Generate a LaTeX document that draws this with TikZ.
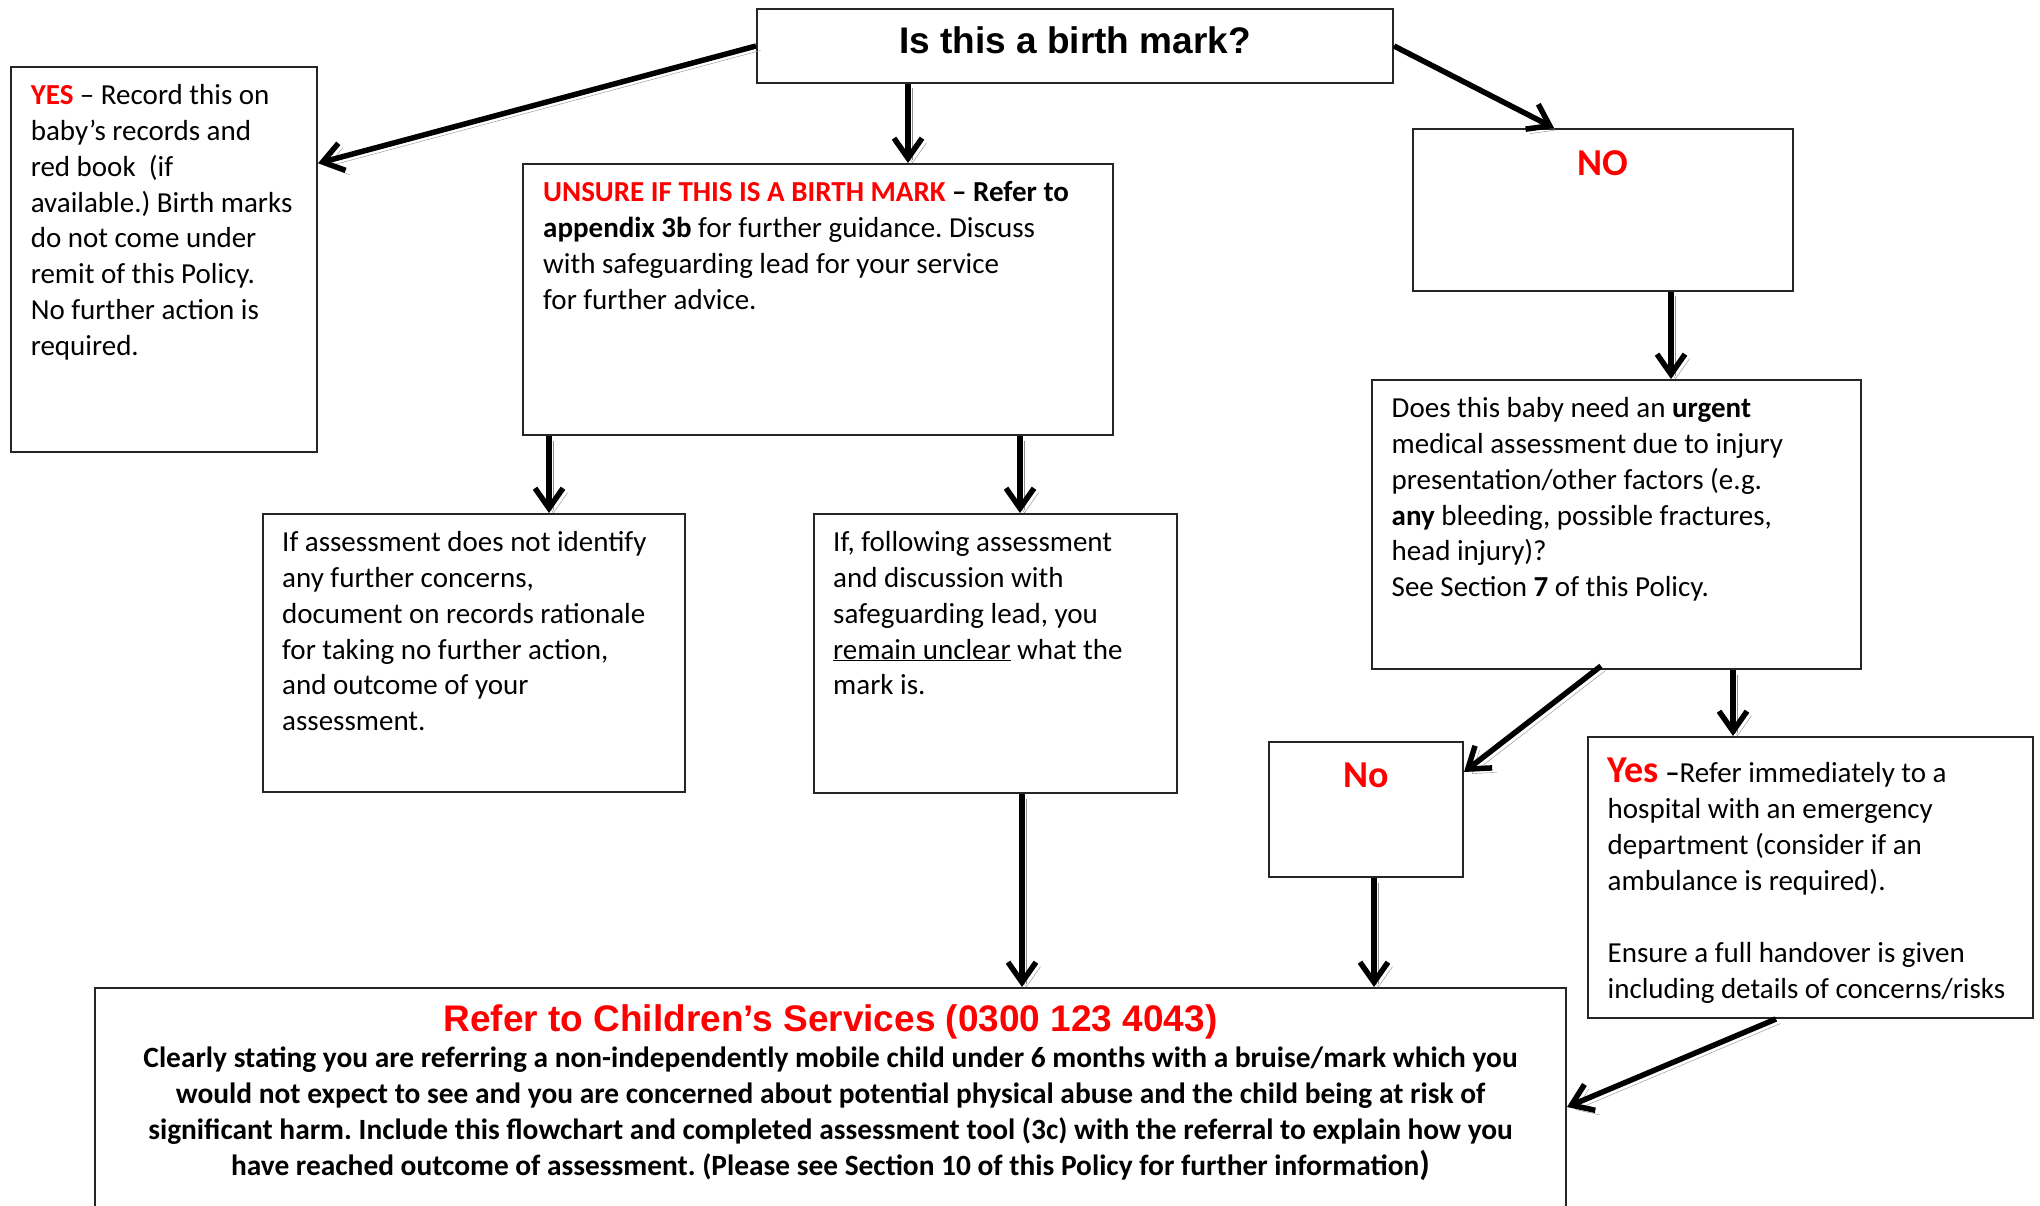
\documentclass[tikz,border=0pt]{standalone}
\usepackage{fontspec}
\setmainfont{Carlito}
\newfontfamily\arialfont{Liberation Sans}
\usetikzlibrary{arrows.meta,calc}
\frenchspacing

\tikzset{
  box/.style={draw=black!85, line width=2pt, rectangle, inner sep=0pt, anchor=north west},
  txt/.style={inner sep=0pt, anchor=north west, align=left, font=\fontsize{29}{35.9}\selectfont},
  answer/.style={inner sep=0pt, anchor=base, text=red, font=\fontsize{38}{40}\selectfont\bfseries},
  arr/.style={line width=5.5pt, -{Straight Barb[length=20pt,width=28pt]},
    preaction={draw=black!45, transform canvas={shift={(4.5,4.5)}}}}
}

\begin{document}
\begin{tikzpicture}[x=1pt,y=-1pt]
\useasboundingbox (0,0) rectangle (2040,1206);
\clip (0,0) rectangle (2040,1206);

% boxes
\node[box, minimum width=636pt, minimum height=74pt, text height=26pt, text depth=10pt,
  font=\arialfont\bfseries\fontsize{37}{40}\selectfont] (mark) at (756,8) {Is this a birth mark?};
\node[box, minimum width=306pt, minimum height=385pt] (yes) at (10,66) {};
\node[box, minimum width=590pt, minimum height=271pt] (unsure) at (522,163) {};
\node[box, minimum width=380pt, minimum height=162pt] (no) at (1412,128) {};
\node[box, minimum width=489pt, minimum height=289pt] (urgent) at (1371,379) {};
\node[box, minimum width=422pt, minimum height=278pt] (clear) at (262,513) {};
\node[box, minimum width=363pt, minimum height=279pt] (unclear) at (813,513) {};
\node[box, minimum width=194pt, minimum height=135pt] (nomed) at (1268,741) {};
\node[box, minimum width=445pt, minimum height=281pt] (yesmed) at (1587,736) {};
\node[box, minimum width=1471pt, minimum height=300pt] (refer) at (94,987) {};

% texts
\node[txt] (yes-t) at ([shift={(20.6,18)}]yes.north west)
  {\textcolor{red}{\textbf{YES}} – Record this on\\baby’s records and\\red book~~(if\\available.) Birth marks\\do not come under\\remit of this Policy.\\No further action is\\required.};
\node[txt] (unsure-t) at ([shift={(21,18)}]unsure.north west)
  {\textcolor{red}{\textbf{UNSURE IF THIS IS A BIRTH MARK}} \textbf{– Refer to}\\\textbf{appendix 3b} for further guidance. Discuss\\with safeguarding lead for your service\\for further advice.};
\node[answer] (no-t) at ([yshift=-48pt]no.north) {NO};
\node[txt] (urgent-t) at ([shift={(20.5,18)}]urgent.north west)
  {Does this baby need an \textbf{urgent}\\medical assessment due to injury\\presentation/other factors (e.g.\\\textbf{any} bleeding, possible fractures,\\head injury)?\\See Section \textbf{7} of this Policy.};
\node[txt] (clear-t) at ([shift={(20,18)}]clear.north west)
  {If assessment does not identify\\any further concerns,\\document on records rationale\\for taking no further action,\\and outcome of your\\assessment.};
\node[txt] (unclear-t) at ([shift={(20,18)}]unclear.north west)
  {If, following assessment\\and discussion with\\safeguarding lead, you\\\underline{remain unclear} what the\\mark is.};
\node[answer] (nomed-t) at ([yshift=-46pt]nomed.north) {No};
\node[txt] (yesmed-t) at ([shift={(20.5,22)}]yesmed.north west)
  {{\fontsize{38}{35.9}\selectfont\bfseries\color{red}Yes} \textbf{–}Refer immediately to a\\hospital with an emergency\\department (consider if an\\ambulance is required).\\[35.9pt]Ensure a full handover is given\\including details of concerns/risks};
\node[inner sep=0pt, anchor=north, align=center, font=\fontsize{29.4}{36.2}\selectfont\bfseries] (refer-t)
  at ([yshift=-17pt]refer.north)
  {{\arialfont\fontsize{37}{36.2}\selectfont\color{red}Refer to Children’s Services (0300 123 4043)}\\
   Clearly stating you are referring a non-independently mobile child under 6 months with a bruise/mark which you\\
   would not expect to see and you are concerned about potential physical abuse and the child being at risk of\\
   significant harm. Include this flowchart and completed assessment tool (3c) with the referral to explain how you\\
   have reached outcome of assessment. (Please see Section 10 of this Policy for further information{\fontsize{34}{36.2}\selectfont)}};

% arrows
\draw[arr] (mark.west) -- (yes.32);
\draw[arr] ([xshift=-167pt]mark.south) -- ([xshift=-167pt]mark.south |- unsure.north);
\draw[arr] (mark.east) -- ([xshift=-49pt]no.north);
\draw[arr] ([xshift=68pt]no.south) -- ([xshift=68pt]no.south |- urgent.north);
\draw[arr] ([xshift=-269pt]unsure.south) -- ([xshift=-269pt]unsure.south |- clear.north);
\draw[arr] ([xshift=202pt]unsure.south) -- ([xshift=202pt]unsure.south |- unclear.north);
\draw[arr] ([xshift=26.5pt]unclear.south) -- ([xshift=26.5pt]unclear.south |- refer.north);
\draw[arr] ([xshift=-15.5pt,yshift=4pt]urgent.south) -- ([yshift=-31pt]nomed.north east);
\draw[arr] ([xshift=116.5pt]urgent.south) -- ([xshift=116.5pt]urgent.south |- yesmed.north);
\draw[arr] ([xshift=8pt]nomed.south) -- ([xshift=8pt]nomed.south |- refer.north);
\draw[arr] ([xshift=-34.5pt]yesmed.south) -- ([yshift=-120pt]refer.north east);

\end{tikzpicture}
\end{document}
